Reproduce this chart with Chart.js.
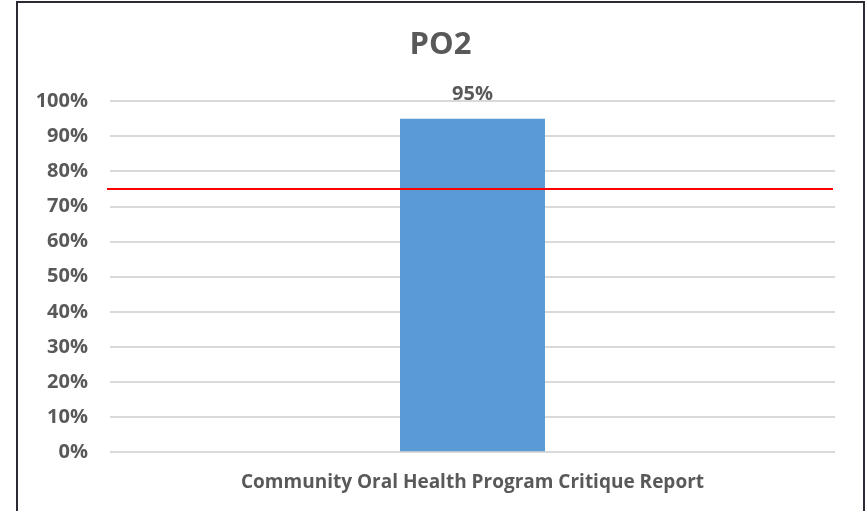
<!DOCTYPE html>
<html>
<head>
<meta charset="utf-8">
<script src="https://cdn.jsdelivr.net/npm/chart.js@4/dist/chart.umd.min.js"></script>
<style>
  html, body { margin: 0; padding: 0; background: #fff; overflow: hidden; }
  #frame {
    position: absolute; left: 16px; top: 1px;
    width: 845px; height: 520px;
    border: 2px solid #2b2b35; border-bottom: none;
  }
  #chart { display: block; }
</style>
</head>
<body>
<div id="frame"><canvas id="chart" width="845" height="509"></canvas></div>
<script>
const categories = ["Community Oral Health Program Critique Report"];
const scores = [95];
const target = 75;
const chartTitle = "PO2";

const textColor = "#595959";
const font = "'Open Sans', sans-serif";

// red target line + value label above bar
const overlay = {
  id: "overlay",
  afterDatasetsDraw(chart) {
    const { ctx, chartArea, scales } = chart;
    const y = scales.y.getPixelForValue(target);
    ctx.save();
    ctx.strokeStyle = "#ff0000";
    ctx.lineWidth = 2;
    ctx.beginPath();
    ctx.moveTo(chartArea.left - 3, y);
    ctx.lineTo(chartArea.right - 2, y);
    ctx.stroke();

    ctx.fillStyle = textColor;
    ctx.font = `bold 20px ${font}`;
    ctx.textAlign = "center";
    ctx.textBaseline = "alphabetic";
    chart.getDatasetMeta(0).data.forEach((bar, i) => {
      ctx.fillText(scores[i] + "%", bar.x, bar.y - 19);
    });
    ctx.restore();
  }
};

new Chart(document.getElementById("chart"), {
  type: "bar",
  data: {
    labels: categories,
    datasets: [{
      data: scores,
      backgroundColor: "#5b9bd5",
      barPercentage: 0.2,
      categoryPercentage: 1
    }]
  },
  options: {
    responsive: false,
    animation: false,
    plugins: {
      legend: { display: false },
      tooltip: { enabled: false },
      title: {
        display: true,
        text: chartTitle,
        color: textColor,
        font: { family: font, size: 31, weight: "bold" },
        padding: { top: 24, bottom: 37 }
      }
    },
    scales: {
      x: {
        grid: { display: false, drawTicks: false },
        border: { display: false },
        ticks: { display: false },
        title: {
          display: true,
          text: categories[0],
          color: textColor,
          font: { family: font, size: 19, weight: "bold" },
          padding: { top: 19, bottom: 18 }
        }
      },
      y: {
        min: 0,
        max: 100,
        ticks: {
          stepSize: 10,
          color: textColor,
          padding: 22,
          font: { family: font, size: 20, weight: "bold" },
          callback: (v) => v + "%"
        },
        grid: { color: "#d9d9d9", lineWidth: 2, drawTicks: false },
        border: { display: false },
        afterFit: (s) => { s.width = 92; }
      },
      // empty right-hand margin, keeps the title centred on the whole frame
      yRight: {
        position: "right",
        ticks: { display: false },
        grid: { display: false, drawTicks: false },
        border: { display: false },
        afterFit: (s) => { s.width = 28; }
      }
    }
  },
  plugins: [overlay]
});
</script>
</body>
</html>
